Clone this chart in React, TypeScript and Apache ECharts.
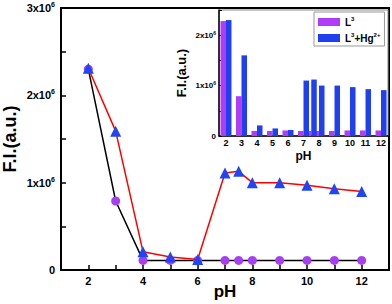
import React, { useEffect, useRef } from "react";
import * as echarts from "echarts";

const pH = [2, 3, 4, 5, 6, 7, 7.5, 8, 9, 10, 11, 12];
const l3 = [2.3e6, 0.79e6, 0.11e6, 0.11e6, 0.11e6, 0.11e6, 0.11e6, 0.11e6, 0.11e6, 0.11e6, 0.11e6, 0.11e6];
const l3Hg = [2.31e6, 1.59e6, 0.21e6, 0.15e6, 0.12e6, 1.11e6, 1.13e6, 1.0e6, 1.0e6, 0.97e6, 0.93e6, 0.9e6];
const insetL3 = [2.28e6, 0.79e6, 0.1e6, 0.1e6, 0.11e6, 0.1e6, 0.1e6, 0.1e6, 0.1e6, 0.11e6, 0.11e6, 0.11e6];
const insetL3Hg = [2.3e6, 1.6e6, 0.21e6, 0.15e6, 0.12e6, 1.1e6, 1.12e6, 1.0e6, 1.0e6, 0.97e6, 0.93e6, 0.91e6];
const xTickLabels = [2, 4, 6, 8, 10, 12];
const insetXTickLabels = [2, 3, 4, 5, 6, 7, 8, 9, 10, 11, 12];

const FONT = "'Liberation Sans', Arial, sans-serif";
const PURPLE = "#a63ff2";
const BLUE = "#1f45f5";
const BAR_PURPLE = "#b23cf5";
const BAR_BLUE = "#1f3ff0";

function sciFormatter(v: number) {
  if (v === 0) return "0";
  if (Math.abs(v % 1e6) > 1) return "";
  return `{b|${v / 1e6}x10}{s|6}`;
}

export default function App() {
  const ref = useRef<HTMLDivElement>(null);
  useEffect(() => {
    if (!ref.current) return;
    const chart = echarts.init(ref.current, undefined, { renderer: "svg" });
    const pairs = (ys: number[]) => pH.map((x, i) => [x, ys[i]]);
    chart.setOption({
      animation: false,
      textStyle: { fontFamily: FONT },
      legend: {
        data: ["L3", "L3+Hg2+"],
        orient: "vertical",
        left: 314,
        top: 12,
        itemWidth: 22,
        itemHeight: 8,
        itemGap: 5,
        padding: [4, 4, 3, 4],
        borderColor: "#999",
        borderWidth: 1,
        backgroundColor: "#fff",
        icon: "rect",
        formatter: (name: string) =>
          name === "L3" ? "{b|L}{s|3}" : "{b|L}{s|3}{b|+Hg}{s|2+}",
        textStyle: {
          rich: {
            b: { fontSize: 10, fontWeight: "bold", fontFamily: FONT, color: "#000" },
            s: { fontSize: 6, fontWeight: "bold", fontFamily: FONT, color: "#000", padding: [0, 0, 6, 0] },
          },
        },
      },
      grid: [
        { left: 61, top: 8, right: 3, bottom: 34, show: true, borderColor: "#000", borderWidth: 2, outerBoundsMode: "none", containLabel: false },
        { left: 219, top: 10, right: 4, bottom: 168, show: true, borderColor: "#888", borderWidth: 1, backgroundColor: "#fff", outerBoundsMode: "none", containLabel: false },
      ],
      xAxis: [
        {
          type: "value",
          gridIndex: 0,
          min: 1,
          max: 13,
          interval: 1,
          name: "pH",
          nameLocation: "middle",
          nameGap: 13,
          nameMoveOverlap: false,
          nameTextStyle: { fontSize: 17, fontWeight: "bold", color: "#000", verticalAlign: "top" },
          axisLine: { lineStyle: { color: "#000", width: 2 } },
          axisTick: { inside: true, length: 5, lineStyle: { color: "#000", width: 1.5 } },
          splitLine: { show: false },
          axisLabel: {
            fontSize: 11,
            fontWeight: "bold",
            color: "#000",
            margin: 5,
            formatter: (v: number) => (xTickLabels.includes(v) ? String(v) : ""),
          },
        },
        {
          type: "value",
          gridIndex: 1,
          min: 1.55,
          max: 12.45,
          name: "pH",
          nameLocation: "middle",
          nameGap: 14,
          nameMoveOverlap: false,
          nameTextStyle: { fontSize: 12, fontWeight: "bold", color: "#000", verticalAlign: "top" },
          axisLine: { lineStyle: { color: "#000", width: 1.5 } },
          axisTick: { show: false },
          splitLine: { show: false },
          axisLabel: {
            fontSize: 9,
            fontWeight: "bold",
            color: "#000",
            margin: 2,
            customValues: insetXTickLabels,
            formatter: (v: number) => String(v),
          },
        },
      ],
      yAxis: [
        {
          type: "value",
          gridIndex: 0,
          min: 0,
          max: 3e6,
          interval: 5e5,
          name: "F.I.(a.u.)",
          nameLocation: "middle",
          nameGap: 42,
          nameMoveOverlap: false,
          nameTextStyle: { fontSize: 18, fontWeight: "bold", color: "#000" },
          axisLine: { lineStyle: { color: "#000", width: 2 } },
          axisTick: { inside: true, length: 5, lineStyle: { color: "#000", width: 1.5 } },
          splitLine: { show: false },
          axisLabel: {
            fontSize: 11,
            fontWeight: "bold",
            color: "#000",
            margin: 6,
            formatter: sciFormatter,
            rich: {
              b: { fontSize: 11, fontWeight: "bold", fontFamily: FONT, color: "#000" },
              s: { fontSize: 7, fontWeight: "bold", fontFamily: FONT, color: "#000", padding: [0, 0, 7, 0] },
            },
          },
        },
        {
          type: "value",
          gridIndex: 1,
          min: 0,
          max: 2.5e6,
          interval: 5e5,
          name: "F.I.(a.u.)",
          nameLocation: "middle",
          nameGap: 31,
          nameMoveOverlap: false,
          nameTextStyle: { fontSize: 13, fontWeight: "bold", color: "#000" },
          axisLine: { lineStyle: { color: "#000", width: 1.5 } },
          axisTick: { inside: true, length: 3, lineStyle: { color: "#000", width: 1 } },
          splitLine: { show: false },
          axisLabel: {
            fontSize: 8,
            fontWeight: "bold",
            color: "#000",
            margin: 3,
            formatter: sciFormatter,
            rich: {
              b: { fontSize: 8, fontWeight: "bold", fontFamily: FONT, color: "#000" },
              s: { fontSize: 5, fontWeight: "bold", fontFamily: FONT, color: "#000", padding: [0, 0, 5, 0] },
            },
          },
        },
      ],
      series: [
        {
          name: "L3 line",
          type: "line",
          xAxisIndex: 0,
          yAxisIndex: 0,
          data: pairs(l3),
          symbol: "circle",
          symbolSize: 9,
          itemStyle: { color: PURPLE },
          lineStyle: { color: "#000", width: 1.5 },
          z: 3,
        },
        {
          name: "L3+Hg2+ line",
          type: "line",
          xAxisIndex: 0,
          yAxisIndex: 0,
          data: pairs(l3Hg),
          symbol: "triangle",
          symbolSize: 11,
          itemStyle: { color: BLUE },
          lineStyle: { color: "#ff0000", width: 1.5 },
          z: 4,
        },
        {
          name: "L3",
          type: "bar",
          xAxisIndex: 1,
          yAxisIndex: 1,
          data: pH.map((x, i) => [x, insetL3[i]]),
          barWidth: 5.5,
          barGap: "0%",
          itemStyle: { color: BAR_PURPLE },
        },
        {
          name: "L3+Hg2+",
          type: "bar",
          xAxisIndex: 1,
          yAxisIndex: 1,
          data: pH.map((x, i) => [x, insetL3Hg[i]]),
          barWidth: 5.5,
          barGap: "0%",
          itemStyle: { color: BAR_BLUE },
        },
      ],
    });
    return () => chart.dispose();
  }, []);
  return (
    <div
      ref={ref}
      style={{ position: "fixed", left: 0, top: 0, width: 392, height: 304, background: "#fff" }}
    />
  );
}
